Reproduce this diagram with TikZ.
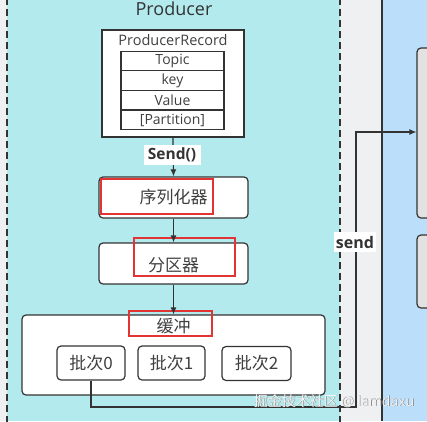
\documentclass[tikz,border=0pt]{standalone}
\usepackage{fontspec}
\usetikzlibrary{arrows.meta}
\setmainfont{Open Sans}
\newfontfamily\cjk{Noto Sans CJK SC}
\definecolor{graybg}{RGB}{238,240,242}
\definecolor{cyanbg}{RGB}{178,234,238}
\definecolor{bluebg}{RGB}{187,222,250}
\definecolor{ln}{RGB}{51,51,51}
\definecolor{txt}{RGB}{64,64,64}
\definecolor{hl}{RGB}{226,52,52}
\definecolor{boxgray}{RGB}{226,226,226}
\begin{document}
\begin{tikzpicture}[x=1pt,y=-1pt,
  every node/.style={text=txt, inner sep=0pt},
  wbox/.style={draw=ln, line width=1.2pt, fill=white, rounded corners=4pt},
  cell/.style={draw=ln, line width=1.2pt, fill=white, minimum width=103pt, minimum height=19.5pt, font=\fontsize{14}{15}\selectfont},
  redbox/.style={draw=hl, line width=2pt},
  conn/.style={draw=ln, line width=1.2pt},
  arr/.style={conn, -{Latex[length=7pt,width=6pt]}},
  lbl/.style={fill=white, inner sep=1.5pt, font=\bfseries\fontsize{15.5}{16}\selectfont, text=ln},
  cjkfont/.style={font=\cjk\fontsize{17}{18}\selectfont},
  wmark/.style={font=\fontsize{14}{15}\selectfont}
]
\useasboundingbox (0,0) rectangle (427,421);
\begin{scope}
\clip (0,0) rectangle (427,421);
\fill[graybg] (0,0) rectangle (427,421);
\fill[cyanbg] (7,0) rectangle (340,421);
\fill[bluebg] (382,0) rectangle (427,421);
\draw[ln, line width=1.2pt, dash pattern=on 7pt off 4pt] (7,-2) -- (7,423);
\draw[ln, line width=1.2pt, dash pattern=on 7pt off 4pt] (340,-2) -- (340,423);
\draw[ln, line width=1.2pt] (382,0) -- (382,421);

% right gray boxes
\node[draw=ln, line width=1.2pt, fill=boxgray, rounded corners=4pt, minimum width=40pt, minimum height=170pt] (rb1) at (437,133) {};
\node[draw=ln, line width=1.2pt, fill=boxgray, rounded corners=4pt, minimum width=40pt, minimum height=73pt] (rb2) at (437,271.5) {};

% title
\node[font=\fontsize{18}{19}\selectfont, text=ln] (title) at (174,9) {Producer};

% ProducerRecord
\node[draw=ln, line width=1.2pt, fill=white, minimum width=142pt, minimum height=107pt] (rec) at (173,83.5) {};
\node[font=\fontsize{14.5}{15}\selectfont] (rectitle) at (173,40.5) {ProducerRecord};
\node[cell] (c1) at (172.5,61) {Topic};
\node[cell] (c2) at (172.5,80.5) {key};
\node[cell] (c3) at (172.5,100) {Value};
\node[cell] (c4) at (172.5,120) {[Partition]};

% serializer
\node[wbox, minimum width=149pt, minimum height=41pt] (ser) at (173.5,197.5) {};
\node[redbox, minimum width=112pt, minimum height=35pt] (serr) at (157,196.5) {};
\node[cjkfont] (sert) at (173.5,197) {序列化器};

% partitioner
\node[wbox, minimum width=149pt, minimum height=41pt] (part) at (173.5,263.5) {};
\node[redbox, minimum width=101pt, minimum height=38pt] (partr) at (184.5,257) {};
\node[cjkfont] (partt) at (173.5,265) {分区器};

% buffer
\node[wbox, minimum width=303pt, minimum height=80pt] (buf) at (173.5,355) {};
\node[redbox, minimum width=83pt, minimum height=25pt] (bufr) at (170.5,323.5) {};
\node[cjkfont] (buft) at (173.5,326) {缓冲};

\node[wbox, minimum width=68pt, minimum height=34pt, cjkfont] (b0) at (91,363) {批次0};
\node[wbox, minimum width=67pt, minimum height=34pt, cjkfont] (b1) at (171.5,363) {批次1};
\node[wbox, minimum width=69pt, minimum height=34pt, cjkfont] (b2) at (256.5,363.5) {批次2};

% connectors
\draw[arr] (rec.south) -- (ser.north);
\node[lbl, minimum width=57pt, minimum height=20pt] (sendl) at (172,155) {Send()};
\draw[arr] (ser.south) -- (part.north);
\draw[arr] (part.south) -- (buf.north);

\coordinate (k1) at (356,407);
\coordinate (k2) at (356,132);
\draw[arr] (b0.south) |- (k1) -- (k2) -- (rb1.west |- k2);
\node[lbl, font=\bfseries\fontsize{16}{17}\selectfont, minimum height=20pt] (sendr) at (355,242) {send};

% watermark
\node[wmark, text=black!55] (wmshadow) at (334.6,401.6) {{\cjk 掘金技术社区} @ lamdaxu};
\node[wmark, text=white!92!gray] (wm) at (334,401) {{\cjk 掘金技术社区} @ lamdaxu};
\end{scope}
\end{tikzpicture}
\end{document}
